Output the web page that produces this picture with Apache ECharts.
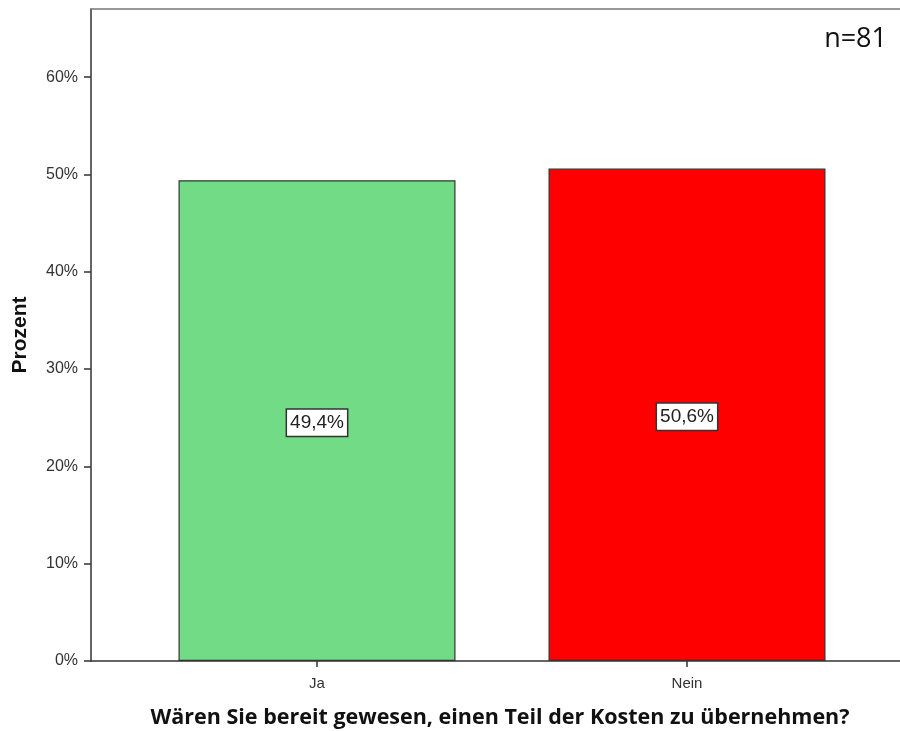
<!DOCTYPE html>
<html>
<head>
<meta charset="utf-8">
<script src="https://cdn.jsdelivr.net/npm/echarts@6/dist/echarts.min.js"></script>
<style>html,body{margin:0;padding:0;background:#fff}#c{width:900px;height:731px}</style>
</head>
<body>
<div id="c"></div>
<script>
const categories = ['Ja', 'Nein'];
const values = [49.4, 50.6];
const barColors = ['#71DC85', '#FF0000'];
const yTicks = [0, 10, 20, 30, 40, 50, 60];
const xTitle = 'Wären Sie bereit gewesen, einen Teil der Kosten zu übernehmen?';
const yTitle = 'Prozent';
const note = 'n=81';

const chart = echarts.init(document.getElementById('c'));
const txt = '#333';
const sans = "'Liberation Sans', Arial, sans-serif";
const open = "'Open Sans', 'Noto Sans', sans-serif";
chart.setOption({
  animation: false,
  backgroundColor: '#fff',
  grid: [
    {left: 91, top: 9, width: 818, height: 652, outerBoundsMode: 'none', containLabel: false},
    {left: 132, top: 9, width: 740, height: 652, outerBoundsMode: 'none', containLabel: false}
  ],
  xAxis: [
    {gridIndex: 0, type: 'value', min: 0, max: 1, position: 'bottom',
     axisLine: {show: true, lineStyle: {color: '#333', width: 1.5}},
     axisTick: {show: false}, axisLabel: {show: false}, splitLine: {show: false},
     name: xTitle, nameLocation: 'middle', nameGap: 46,
     nameTextStyle: {fontFamily: open, fontWeight: 'bold', fontSize: 21.5, color: '#111'}},
    {gridIndex: 0, type: 'value', min: 0, max: 1, position: 'top',
     axisLine: {show: true, lineStyle: {color: '#777', width: 1.5}},
     axisTick: {show: false}, axisLabel: {show: false}, splitLine: {show: false}},
    {gridIndex: 1, type: 'category', data: categories, boundaryGap: true,
     axisLine: {show: false},
     axisTick: {show: true, alignWithLabel: true, length: 6, lineStyle: {color: '#333', width: 1.5}},
     axisLabel: {color: txt, fontSize: 15, fontFamily: sans, margin: 15}}
  ],
  yAxis: [
    {gridIndex: 0, type: 'value', min: 0, max: 67,
     axisLine: {show: true, lineStyle: {color: '#333', width: 1.5}},
     axisTick: {show: true, length: 7, customValues: yTicks, lineStyle: {color: '#333', width: 1.5}},
     axisLabel: {customValues: yTicks, formatter: v => v + '%', color: txt, fontSize: 16, margin: 13,
                 fontFamily: sans},
     splitLine: {show: false},
     name: yTitle, nameLocation: 'middle', nameGap: 60,
     nameTextStyle: {fontFamily: sans, fontWeight: 'bold', fontSize: 21, color: '#111'}},
    {gridIndex: 1, type: 'value', min: 0, max: 67, show: false}
  ],
  series: [{
    type: 'bar', xAxisIndex: 2, yAxisIndex: 1, barWidth: 277,
    data: values.map((v, i) => ({value: v, itemStyle: {color: barColors[i]}})),
    itemStyle: {borderColor: '#333', borderWidth: 1.2},
    label: {show: true, position: 'inside', offset: [0, 2], formatter: p => String(p.value).replace('.', ',') + '%',
      color: '#222', fontSize: 19, fontFamily: sans,
      backgroundColor: '#fff', borderColor: '#333', borderWidth: 1.5, padding: [4, 3, 3, 3]}
  }],
  graphic: [{type: 'text', right: 13, top: 26,
    style: {text: note, fontSize: 27, fontFamily: open, fill: '#111'}}]
});
</script>
</body>
</html>
